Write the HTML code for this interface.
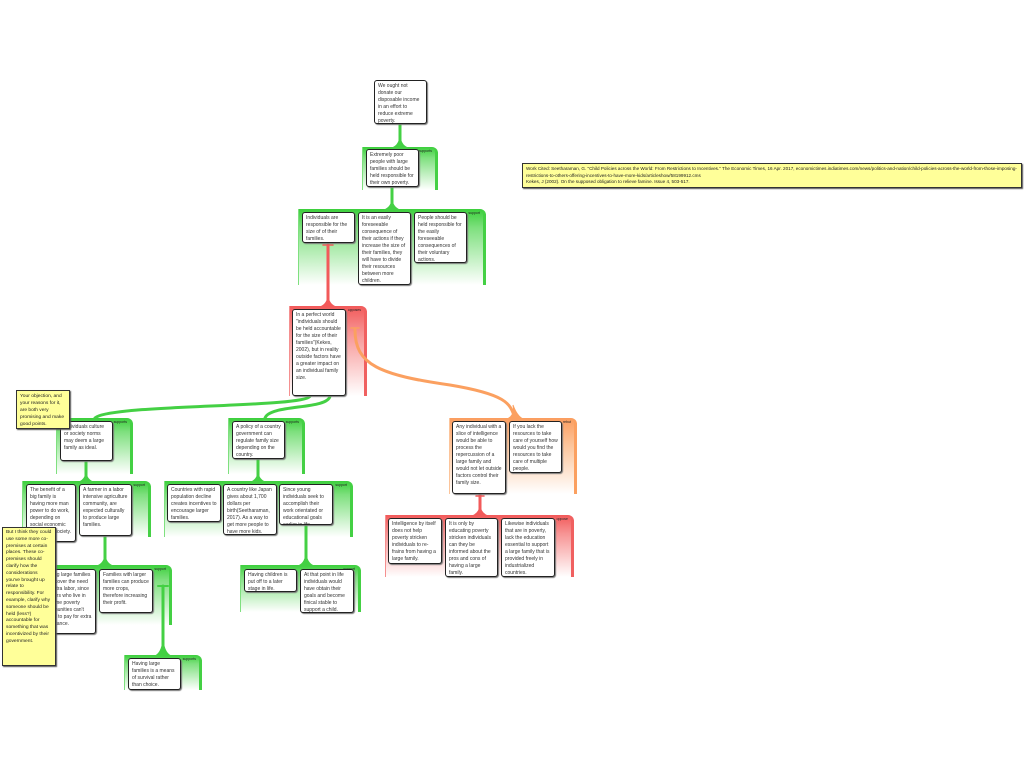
<!DOCTYPE html>
<html><head><meta charset="utf-8">
<style>
html,body{margin:0;padding:0;background:#fff;width:1024px;height:768px;overflow:hidden;position:relative;font-family:"Liberation Sans",sans-serif}
.g{position:absolute;border-radius:0 6px 0 0;box-sizing:border-box}
.gr{background:linear-gradient(to bottom,#3ccf3c 0%,#7fe07f 25%,#fff 100%);border-right:3px solid #44d044;border-left:1px solid #7fe07f}
.rd{background:linear-gradient(to bottom,#f25a5a 0%,#f79494 30%,#fff 100%);border-right:3px solid #f06060;border-left:1px solid #f59090}
.or{background:linear-gradient(to bottom,#fb9d5f 0%,#fcc49a 35%,#fff 100%);border-right:3px solid #fba060;border-left:1px solid #fcc49a}
.lb{position:absolute;right:3px;top:2px;font-size:3.5px;color:#222}
.b{position:absolute;background:#fff;border:1.5px solid #222;border-radius:3px;box-sizing:border-box;padding:2px 3px;font-size:5px;line-height:7px;color:#333;box-shadow:1px 1px 1px #777;overflow:hidden}
.n{position:absolute;background:#ffff99;border:1px solid #333;box-sizing:border-box;padding:2px 3px;font-family:"Liberation Sans",sans-serif;font-size:4.9px;line-height:7px;color:#222;box-shadow:1px 1px 1px #555;overflow:hidden}
svg{position:absolute;left:0;top:0}
</style></head><body>

<div class="g gr" style="left:362px;top:147px;width:76px;height:43px"><span class="lb">supports</span></div>
<div class="g gr" style="left:298px;top:209px;width:188px;height:76px"><span class="lb">support</span></div>
<div class="g rd" style="left:289px;top:306px;width:78px;height:90px"><span class="lb">opposes</span></div>
<div class="g gr" style="left:56px;top:418px;width:77px;height:56px"><span class="lb">supports</span></div>
<div class="g gr" style="left:228px;top:418px;width:77px;height:56px"><span class="lb">supports</span></div>
<div class="g or" style="left:449px;top:418px;width:128px;height:76px"><span class="lb">rebut</span></div>
<div class="g gr" style="left:22px;top:481px;width:129px;height:56px"><span class="lb">support</span></div>
<div class="g gr" style="left:164px;top:481px;width:189px;height:56px"><span class="lb">support</span></div>
<div class="g rd" style="left:385px;top:515px;width:189px;height:62px"><span class="lb">oppose</span></div>
<div class="g gr" style="left:56px;top:565px;width:116px;height:60px"><span class="lb">support</span></div>
<div class="g gr" style="left:240px;top:565px;width:121px;height:47px"><span class="lb">support</span></div>
<div class="g gr" style="left:124px;top:655px;width:78px;height:35px"><span class="lb">supports</span></div>

<svg width="1024" height="768">
 <g fill="none" stroke-linecap="round">
  <path d="M400,124 L400,147" stroke="#44d044" stroke-width="3"/>
  <path d="M392,148 Q400,145 400,134 Q400,145 408,148 Z" fill="#44d044" stroke="#44d044"/>
  <path d="M392,187 L392,209" stroke="#44d044" stroke-width="3"/>
  <path d="M384,210 Q392,207 392,198 Q392,207 400,210 Z" fill="#44d044" stroke="#44d044"/>
  <path d="M328,245 L328,306" stroke="#f25a5a" stroke-width="3"/>
  <path d="M320,307 Q328,304 328,294 Q328,304 336,307 Z" fill="#f25a5a" stroke="#f25a5a"/>
  <path d="M323,245 L333,245" stroke="#f25a5a" stroke-width="1.5"/>
  <path d="M310,396 C305,408 110,404 95,418" stroke="#44d044" stroke-width="3"/>
  <path d="M330,396 C328,410 270,404 265,418" stroke="#44d044" stroke-width="3"/>
  <path d="M355,330 C355,365 380,375 450,385 C510,395 510,405 515,418" stroke="#fba060" stroke-width="3"/>
  <path d="M507,419 Q515,416 513,405 Q517,416 523,419 Z" fill="#fba060" stroke="#fba060"/>
  <path d="M351,328 L359,328" stroke="#fba060" stroke-width="1.5"/>
  <path d="M480,494 L480,515" stroke="#f25a5a" stroke-width="3"/>
  <path d="M476,496 L484,496" stroke="#f25a5a" stroke-width="1.5"/>
  <path d="M472,516 Q480,513 480,504 Q480,513 488,516 Z" fill="#f25a5a" stroke="#f25a5a"/>
  <path d="M86,461 L86,481" stroke="#44d044" stroke-width="3"/>
  <path d="M79,482 Q86,479 86,471 Q86,479 93,482 Z" fill="#44d044" stroke="#44d044"/>
  <path d="M258,459 L258,481" stroke="#44d044" stroke-width="3"/>
  <path d="M251,482 Q258,479 258,471 Q258,479 265,482 Z" fill="#44d044" stroke="#44d044"/>
  <path d="M105,536 L105,565" stroke="#44d044" stroke-width="3"/>
  <path d="M97,566 Q105,563 105,553 Q105,563 113,566 Z" fill="#44d044" stroke="#44d044"/>
  <path d="M306,525 L306,565" stroke="#44d044" stroke-width="3"/>
  <path d="M298,566 Q306,563 306,551 Q306,563 314,566 Z" fill="#44d044" stroke="#44d044"/>
  <path d="M163,586 L163,655" stroke="#44d044" stroke-width="3"/>
  <path d="M158,586 L168,586" stroke="#44d044" stroke-width="2"/>
  <path d="M155,656 Q163,652 163,636 Q163,652 171,656 Z" fill="#44d044" stroke="#44d044"/>
 </g>
</svg>

<div class="b" style="left:374px;top:80px;width:53px;height:44px">We ought not donate our disposable income in an effort to reduce extreme poverty.</div>
<div class="b" style="left:366px;top:149px;width:53px;height:38px">Extremely poor people with large families should be held responsible for their own poverty.</div>
<div class="b" style="left:302px;top:212px;width:53px;height:31px">Individuals are responsible for the size of of their families.</div>
<div class="b" style="left:358px;top:212px;width:53px;height:73px">It is an easily foreseeable consequence of their actions if they increase the size of their families, they will have to divide their resources between more children.</div>
<div class="b" style="left:414px;top:212px;width:53px;height:51px">People should be held responsible for the easily foreseeable consequences of their voluntary actions.</div>
<div class="b" style="left:292px;top:309px;width:54px;height:87px">In a perfect world "individuals should be held accountable for the size of their families"(Kekes, 2002), but in reality outside factors have a greater impact on an individual family size.</div>
<div class="b" style="left:60px;top:421px;width:53px;height:40px">Individuals culture or society norms may deem a large family as ideal.</div>
<div class="b" style="left:232px;top:421px;width:53px;height:38px">A policy of a country government can regulate family size depending on the country.</div>
<div class="b" style="left:452px;top:421px;width:54px;height:73px">Any individual with a slice of intelligence would be able to process the repercussion of a large family and would not let outside factors control their family size.</div>
<div class="b" style="left:509px;top:421px;width:53px;height:52px">If you lack the resources to take care of yourself how would you find the resources to take care of multiple people.</div>
<div class="b" style="left:26px;top:484px;width:50px;height:58px">The benefit of a big family is having more man power to do work, depending on social economic status of a society.</div>
<div class="b" style="left:79px;top:484px;width:53px;height:52px">A farmer in a labor intensive agriculture community, are expected culturally to produce large families.</div>
<div class="b" style="left:167px;top:484px;width:54px;height:38px">Countries with rapid population decline creates incentives to encourage larger families.</div>
<div class="b" style="left:223px;top:484px;width:54px;height:51px">A country like Japan gives about 1,700 dollars per birth(Seetharaman, 2017). As a way to get more people to have more kids.</div>
<div class="b" style="left:279px;top:484px;width:54px;height:41px">Since young individuals seek to accomplish their work orientated or educational goals earlier in life.</div>
<div class="b" style="left:388px;top:518px;width:54px;height:46px">Intelligence by itself does not help poverty stricken individuals to re-frains from having a large family.</div>
<div class="b" style="left:445px;top:518px;width:53px;height:59px">It is only by educating poverty stricken individuals can they be informed about the pros and cons of having a large family.</div>
<div class="b" style="left:501px;top:518px;width:54px;height:59px">Likewise individuals that are in poverty, lack the education essential to support a large family that is provided freely in industrialized countries.</div>
<div class="b" style="left:40px;top:569px;width:56px;height:65px">Having large families help cover the need for extra labor, since farmers who live in extreme poverty communities can't afford to pay for extra assistance.</div>
<div class="b" style="left:99px;top:569px;width:54px;height:44px">Families with larger families can produce more crops, therefore increasing their profit.</div>
<div class="b" style="left:244px;top:569px;width:53px;height:23px">Having children is put off to a later stage in life.</div>
<div class="b" style="left:300px;top:569px;width:54px;height:44px">At that point in life individuals would have obtain their goals and become finical stable to support a child.</div>
<div class="b" style="left:128px;top:658px;width:53px;height:32px">Having large families is a means of survival rather than choice.</div>

<div class="n" style="left:16px;top:390px;width:54px;height:39px">Your objection, and your reasons for it, are both very promising and make good points.</div>
<div class="n" style="left:2px;top:527px;width:54px;height:139px;line-height:6.8px">But I think they could use some more co-premises at certain places. These co-premises should clarify how the considerations you've brought up relate to responsibility. For example, clarify why someone should be held (less?) accountable for something that was incentivized by their government.</div>
<div class="n" style="left:522px;top:163px;width:500px;height:25px;font-size:4.6px;line-height:6.5px">Work Cited: Seetharaman, G. "Child Policies across the World: From Restrictions to Incentives." The Economic Times, 16 Apr. 2017, economictimes.indiatimes.com/news/politics-and-nation/child-policies-across-the-world-from-those-imposing-restrictions-to-others-offering-incentives-to-have-more-kids/articleshow/58199912.cms<br>Kekes, J (2002). On the supposed obligation to relieve famine. Issue 4, 503-517.</div>
</body></html>
